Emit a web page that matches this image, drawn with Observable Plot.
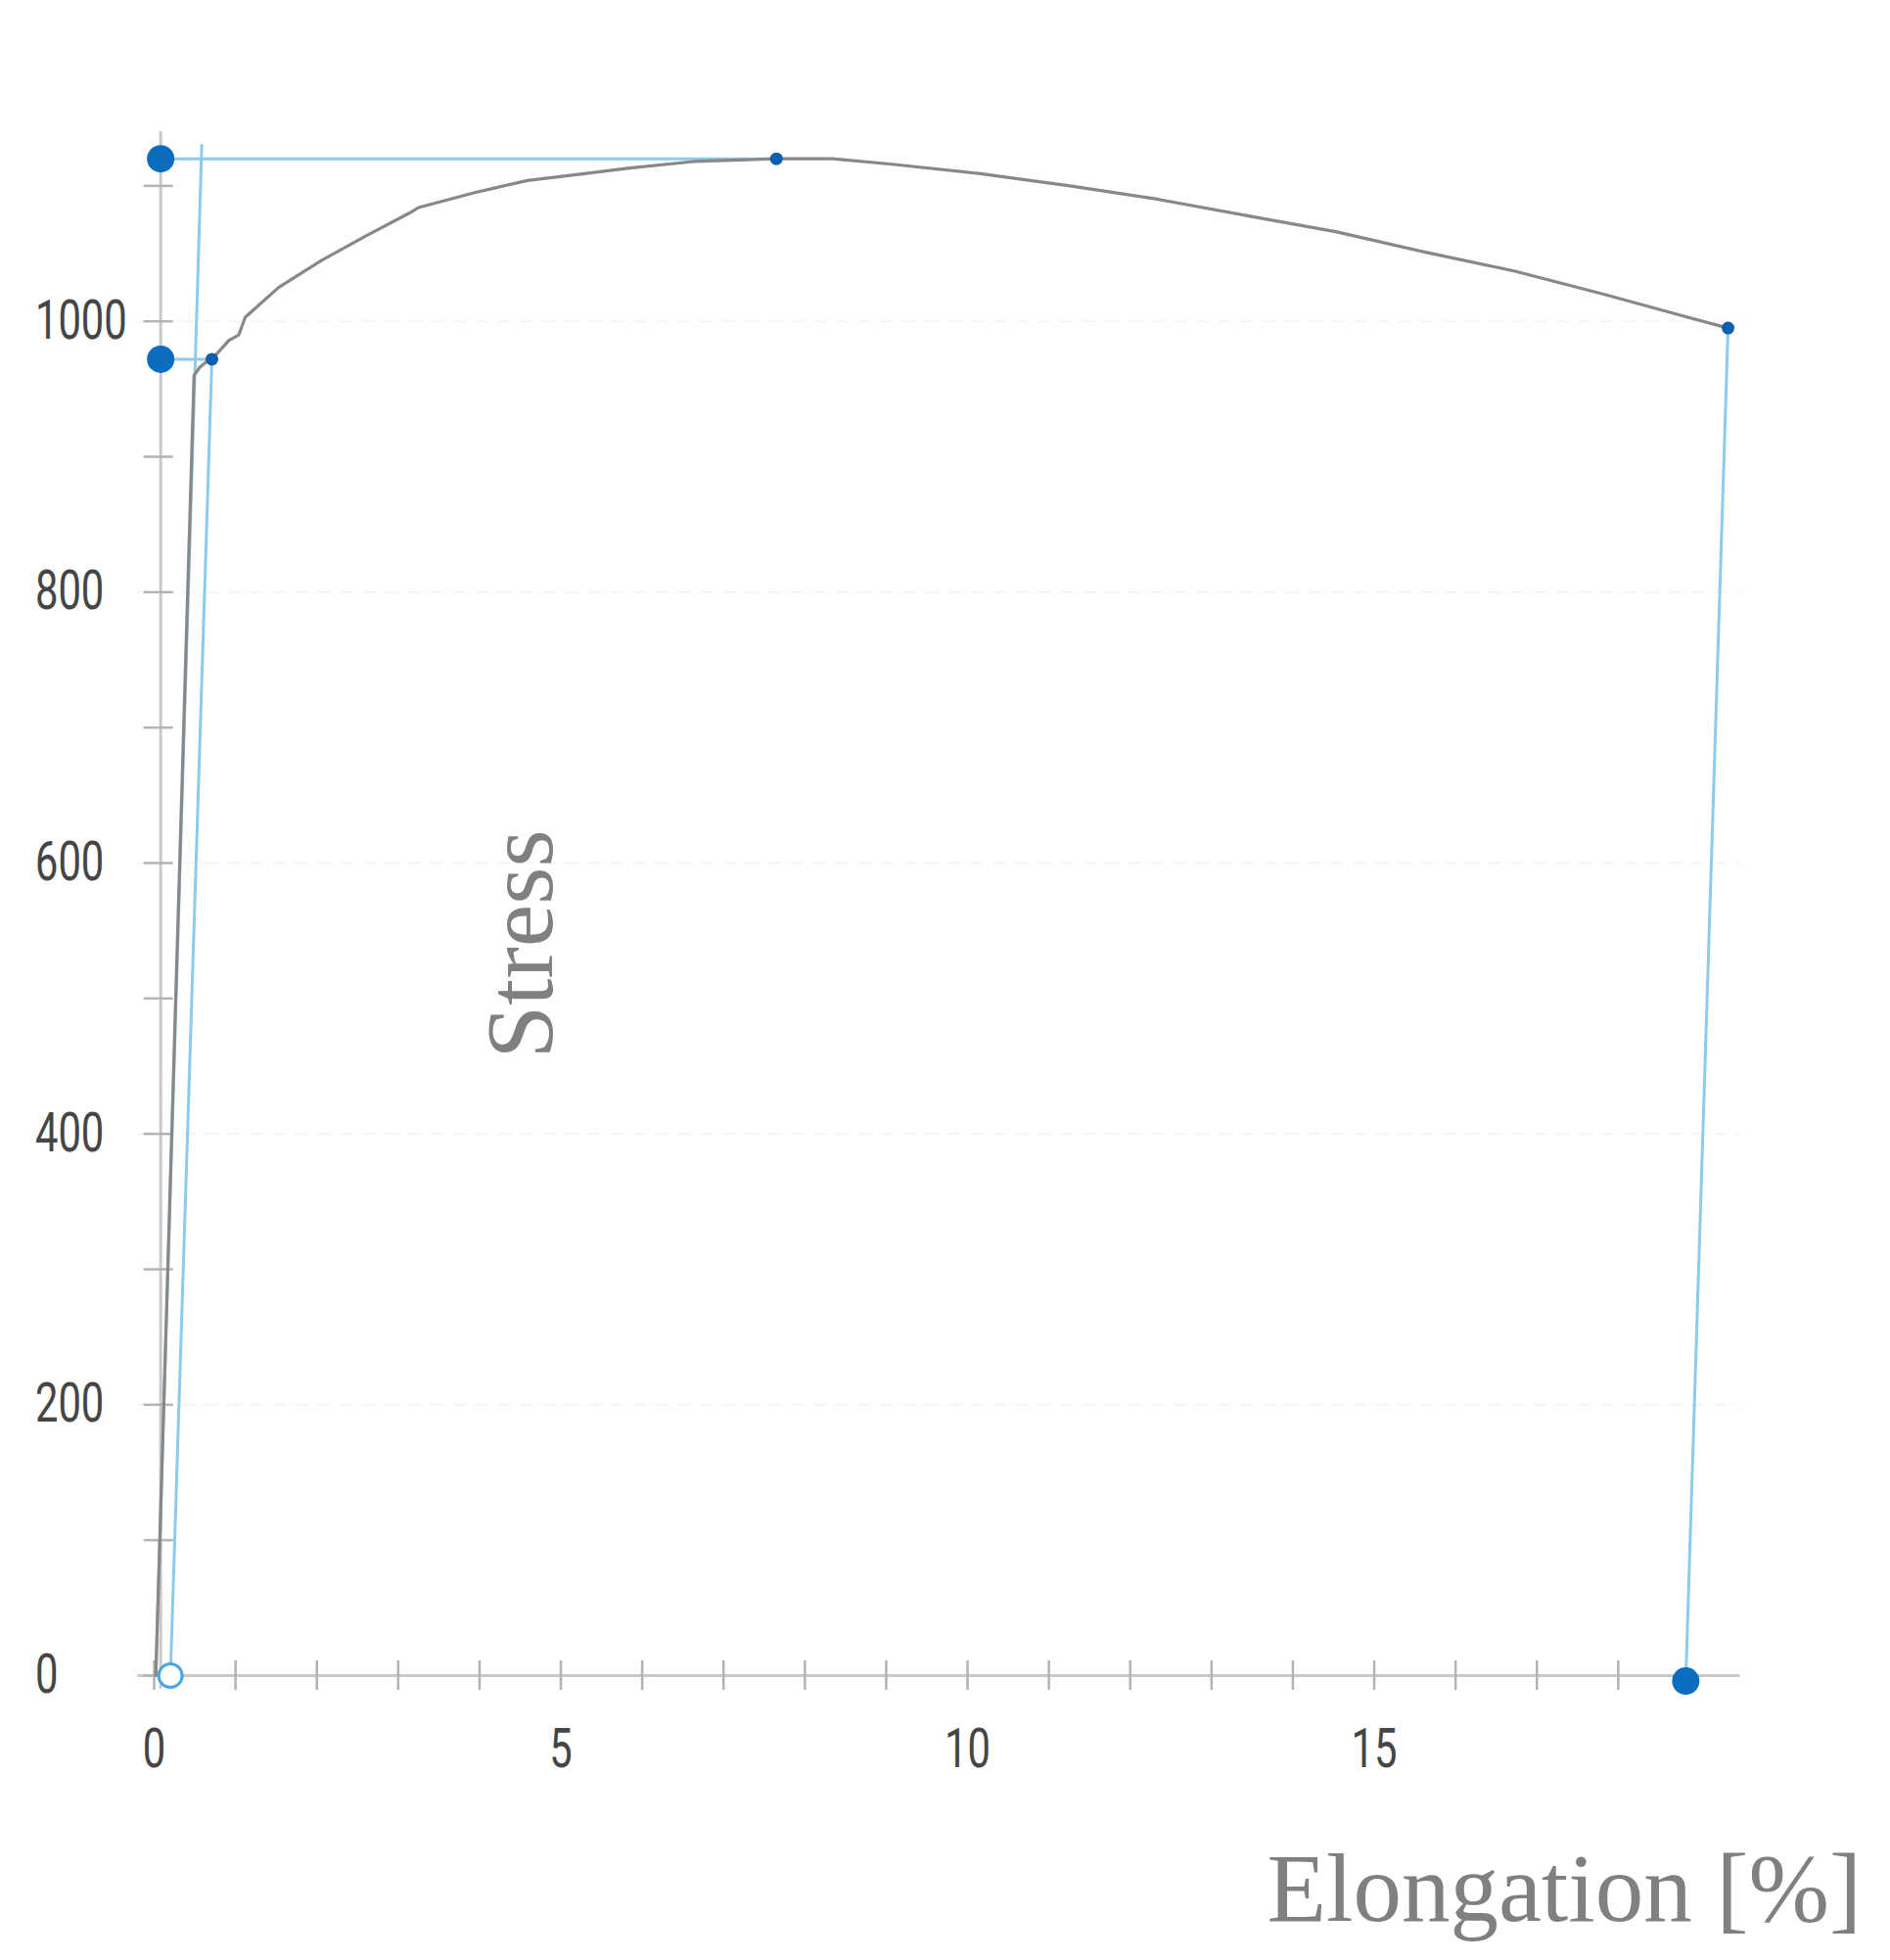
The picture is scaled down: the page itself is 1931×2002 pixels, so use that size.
<!DOCTYPE html>
<html>
<head>
<meta charset="utf-8">
<script src="https://cdn.jsdelivr.net/npm/d3@7"></script>
<script src="https://cdn.jsdelivr.net/npm/@observablehq/plot@0.6"></script>
<style>
  html, body { margin: 0; padding: 0; background: #fff; overflow: hidden; }
  #chart svg { display: block; }
</style>
</head>
<body>
<div id="chart"></div>
<script>
// ---- Data ----
// Stress–strain curve (elongation %, stress)
const curveElong  = [0.02, 0.49, 0.56, 0.64, 0.71, 0.92, 1.04, 1.12, 1.53, 2.06, 2.60, 3.14, 3.25, 3.94, 4.59, 5.29, 5.82, 6.63, 7.65, 8.34, 9.07, 10.16, 11.26, 12.35, 13.44, 14.54, 15.63, 16.73, 17.82, 18.92, 19.35];
const curveStress = [0,    960,  966,  970,  972,  986,  990,  1003, 1025, 1045, 1063, 1080, 1084, 1095, 1104, 1109, 1113, 1118, 1120, 1120, 1116, 1109,  1100,  1090,  1078,  1066,  1051,  1037,  1020,  1002,  995];

// Construction lines (blue)
const elasticLineElong  = [0.02, 0.585];
const elasticLineStress = [0, 1130];
const offsetLineElong   = [0.2, 0.71];
const offsetLineStress  = [0, 972];
const yieldLineElong    = [0.08, 0.71];
const yieldLineStress   = [972, 972];
const utsLineElong      = [0.08, 7.65];
const utsLineStress     = [1120, 1120];
const breakLineElong    = [19.35, 18.83];
const breakLineStress   = [995, -4];

// Markers
const bigDotElong    = [0.08, 0.08, 18.83];
const bigDotStress   = [1120, 972, -4];
const smallDotElong  = [0.71, 7.65, 19.35];
const smallDotStress = [972, 1120, 995];
const hollowElong    = [0.2];
const hollowStress   = [0];

// Axes
const yAxisElong   = [0.08];
const yAxisExtent  = [-10, 1140];
const xTicks       = [0, 1, 2, 3, 4, 5, 6, 7, 8, 9, 10, 11, 12, 13, 14, 15, 16, 17, 18];
const xTickLabels  = [0, 5, 10, 15];
const yTicks       = [0, 100, 200, 300, 400, 500, 600, 700, 800, 900, 1000, 1100];
const yTickLabels  = [0, 200, 400, 600, 800, 1000];
const gridStress   = [200, 400, 600, 800, 1000];
const yTitle = "Stress";
const xTitle = "Elongation [%]";

// ---- Styles ----
const blueLine = "#8ccbec";
const grayCurve = "#888888";
const axisGray = "#c9c9c9";
const tickGray = "#b3b3b3";
const labelFill = "#454545";
const titleFill = "#808080";

const n = a => ({length: a.length});
const plain = d => String(d);

const svg = Plot.plot({
  width: 1931,
  height: 2002,
  marginLeft: 140.4,
  marginRight: 153.5,
  marginTop: 0,
  marginBottom: 291,
  x: {domain: [-0.2, 19.5]},
  y: {domain: [0, 1236.9]},
  style: {background: "white", fontFamily: "Roboto, sans-serif", overflow: "visible"},
  marks: [
    // faint horizontal grid
    Plot.gridY(gridStress, {stroke: "#000", strokeOpacity: 0.045, strokeWidth: 2, strokeDasharray: "14 9"}),
    // axis lines
    Plot.ruleY([0], {stroke: axisGray, strokeWidth: 3}),
    Plot.ruleX(yAxisElong, {y1: yAxisExtent[0], y2: yAxisExtent[1], stroke: axisGray, strokeWidth: 3}),
    // tick marks crossing axes
    Plot.axisX({ticks: xTicks, tickSize: 30, dy: -15, tickFormat: () => "", label: null, stroke: tickGray, strokeWidth: 2.5}),
    Plot.axisY({ticks: yTicks, tickSize: 30, dx: 36.3, tickFormat: () => "", label: null, stroke: tickGray, strokeWidth: 2.5}),
    // tick labels
    Plot.axisX({ticks: xTickLabels, tickSize: 0, tickPadding: 54, tickFormat: plain, label: null, fontSize: 55, fill: labelFill, fontFamily: "Roboto"}),
    Plot.axisY({ticks: yTickLabels, tickSize: 0, tickPadding: 105, tickFormat: plain, textAnchor: "start", label: null, fontSize: 55, fill: labelFill, fontFamily: "Roboto"}),
    // blue construction lines
    Plot.line(n(elasticLineElong), {x: elasticLineElong, y: elasticLineStress, stroke: blueLine, strokeWidth: 3}),
    Plot.line(n(offsetLineElong), {x: offsetLineElong, y: offsetLineStress, stroke: blueLine, strokeWidth: 3}),
    Plot.line(n(yieldLineElong), {x: yieldLineElong, y: yieldLineStress, stroke: blueLine, strokeWidth: 3}),
    Plot.line(n(utsLineElong), {x: utsLineElong, y: utsLineStress, stroke: blueLine, strokeWidth: 3}),
    Plot.line(n(breakLineElong), {x: breakLineElong, y: breakLineStress, stroke: blueLine, strokeWidth: 3}),
    // stress-strain curve
    Plot.line(n(curveElong), {x: curveElong, y: curveStress, stroke: grayCurve, strokeWidth: 3.2, strokeLinejoin: "round"}),
    // markers
    Plot.dot(n(hollowElong), {x: hollowElong, y: hollowStress, r: 12, fill: "white", stroke: "#4aa6e2", strokeWidth: 3}),
    Plot.dot(n(bigDotElong), {x: bigDotElong, y: bigDotStress, r: 14, fill: "#0a6dbd"}),
    Plot.dot(n(smallDotElong), {x: smallDotElong, y: smallDotStress, r: 6.5, fill: "#0a5fae"}),
    // titles
    Plot.text([yTitle], {text: d => d, frameAnchor: "top-left", textAnchor: "middle", lineAnchor: "middle", rotate: -90, dx: 392, dy: 964, fontFamily: "Liberation Serif", fontSize: 98, fill: titleFill}),
    Plot.text([xTitle], {text: d => d, frameAnchor: "bottom-right", textAnchor: "end", lineAnchor: "middle", dx: 124, dy: 219.3, fontFamily: "Liberation Serif", fontSize: 99, fill: titleFill})
  ]
});

// condense tick-label digits horizontally (the reference font is narrow)
svg.querySelectorAll('g[aria-label$="tick label"] text').forEach(t => {
  let x = parseFloat(t.getAttribute("x"));
  if (!isFinite(x)) x = 0;
  const tr = t.getAttribute("transform") || "";
  t.setAttribute("transform", `${tr} translate(${x},0) scale(0.76,1) translate(${-x},0)`);
});

document.getElementById("chart").append(svg);
</script>
</body>
</html>
